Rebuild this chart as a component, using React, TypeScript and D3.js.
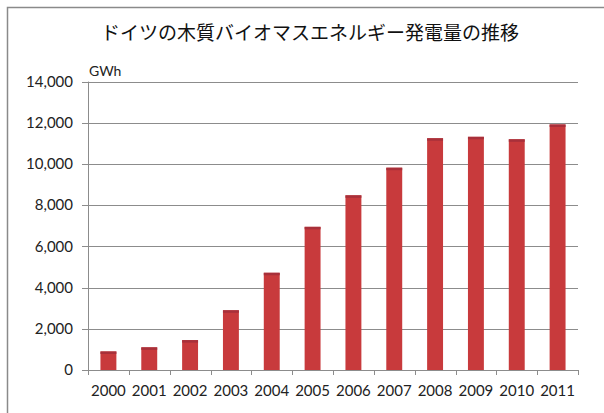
import React, { useEffect, useRef } from "react";
import * as d3 from "d3";

const years = ["2000","2001","2002","2003","2004","2005","2006","2007","2008","2009","2010","2011"];
const values = [900, 1100, 1450, 2900, 4720, 6950, 8480, 9820, 11250, 11320, 11200, 11920];
const yTicks = [0, 2000, 4000, 6000, 8000, 10000, 12000, 14000];
const title = "ドイツの木質バイオマスエネルギー発電量の推移";
const unit = "GWh";

export default function App() {
  const ref = useRef<SVGSVGElement>(null);
  useEffect(() => {
    const svg = d3.select(ref.current);
    svg.selectAll("*").remove();
    const W = 604, H = 413;
    const left = 88, right = 578, top = 81.6, bottom = 370;
    const font = "Lato, 'Open Sans', sans-serif";
    svg.append("rect").attr("width", W).attr("height", H).attr("fill", "#fff");
    // frame
    svg.append("path").attr("d", `M7.5,${H} V7.5 H${W}`).attr("fill", "none").attr("stroke", "#8a8a8a").attr("stroke-width", 1.5);

    const x = d3.scaleBand().domain(years).range([left, right]).paddingInner(0.61).paddingOuter(0.305);
    const y = d3.scaleLinear().domain([0, 14000]).range([bottom, top]);

    // grid
    svg.append("g").selectAll("line").data(yTicks.filter(t => t > 0)).join("line")
      .attr("x1", left - 6).attr("x2", right)
      .attr("y1", d => Math.round(y(d)) + 0.5).attr("y2", d => Math.round(y(d)) + 0.5)
      .attr("stroke", "#8c8c8c").attr("stroke-width", 1);

    // y labels
    svg.append("g").selectAll("text").data(yTicks).join("text")
      .attr("x", 73).attr("y", d => y(d)).attr("dy", "0.35em")
      .attr("text-anchor", "end").attr("font-family", font).attr("font-size", 15).attr("fill", "#222")
      .text(d => d3.format(",")(d));

    // bars
    svg.append("g").selectAll("rect").data(values).join("rect")
      .attr("x", (d, i) => x(years[i])!).attr("width", x.bandwidth())
      .attr("y", d => y(d)).attr("height", d => bottom - y(d))
      .attr("fill", "#c83a3c");
    svg.append("g").selectAll("rect").data(values).join("rect")
      .attr("x", (d, i) => x(years[i])!).attr("width", x.bandwidth())
      .attr("y", d => y(d)).attr("height", 2.5)
      .attr("fill", "#a8303a");

    // axes lines
    svg.append("line").attr("x1", left + 0.5).attr("x2", left + 0.5).attr("y1", top).attr("y2", bottom)
      .attr("stroke", "#8c8c8c");
    svg.append("line").attr("x1", left - 6).attr("x2", right).attr("y1", bottom + 0.5).attr("y2", bottom + 0.5)
      .attr("stroke", "#8c8c8c");
    const step = x.step();
    const bounds = d3.range(years.length + 1).map(i => left + i * step);
    svg.append("g").selectAll("line").data(bounds).join("line")
      .attr("x1", d => Math.round(d) + 0.5).attr("x2", d => Math.round(d) + 0.5)
      .attr("y1", bottom).attr("y2", bottom + 5).attr("stroke", "#8c8c8c");

    // x labels
    svg.append("g").selectAll("text").data(years).join("text")
      .attr("x", d => x(d)! + x.bandwidth() / 2).attr("y", 391).attr("dy", "0.35em")
      .attr("text-anchor", "middle").attr("font-family", font).attr("font-size", 15).attr("fill", "#222")
      .text(d => d);

    // unit
    svg.append("text").attr("x", 89).attr("y", 76).attr("font-family", font).attr("font-size", 14).attr("fill", "#222").text(unit);

    // title
    svg.append("text").attr("x", 310).attr("y", 33).attr("dy", "0.35em").attr("text-anchor", "middle")
      .attr("font-family", "'Noto Sans CJK JP', sans-serif").attr("font-size", 19).attr("fill", "#111").text(title);
  }, []);
  return <svg ref={ref} width={604} height={413} style={{ position: "absolute", left: 0, top: 0 }} />;
}
